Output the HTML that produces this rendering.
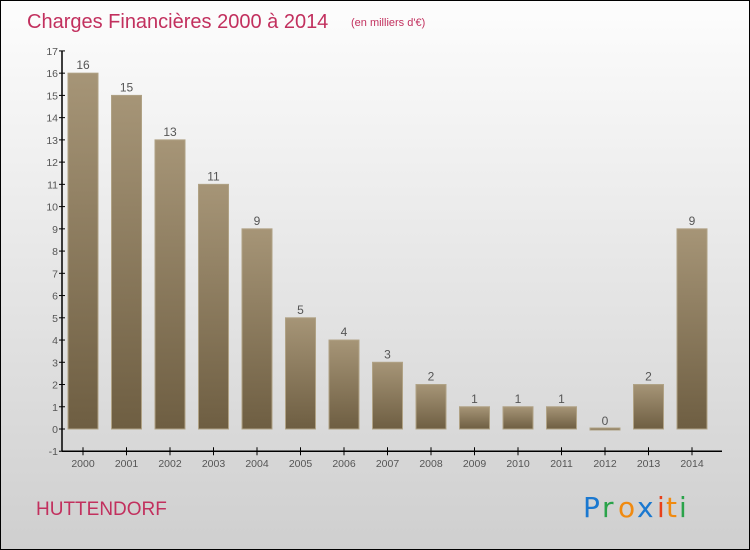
<!DOCTYPE html>
<html><head><meta charset="utf-8"><style>
body{margin:0;}
#c{position:relative;width:748px;height:548px;border:1px solid #000;background:linear-gradient(#fdfdfd,#cfcfcf);overflow:hidden;font-family:"Liberation Sans",sans-serif;}
svg{position:absolute;left:0;top:0}
</style></head><body>
<div id="c">
<svg id="s" width="748" height="548">
<defs><linearGradient id="g" x1="0" y1="0" x2="0" y2="1"><stop offset="0" stop-color="#a69577"/><stop offset="1" stop-color="#6e5e42"/></linearGradient></defs>
<text x="26" y="27" font-size="20" fill="#c2305e">Charges Financières 2000 à 2014</text>
<text x="350" y="25" font-size="11" fill="#c2305e">(en milliers d'€)</text>
<text x="35" y="514" font-size="19" fill="#c2305e">HUTTENDORF</text>
<g font-size="28" font-family="'DejaVu Sans',sans-serif">
<text x="582" y="516" fill="#1a78d0">P</text><text x="601" y="516" fill="#2aa34a">r</text><text x="617" y="516" fill="#f08a10">o</text><text x="636" y="516" fill="#1a78d0">x</text><text x="656" y="516" fill="#e8401a">i</text><text x="665" y="516" fill="#f08a10">t</text><text x="678" y="516" fill="#2aa34a">i</text>
</g>
</svg></div>
<script>
const years=["2000","2001","2002","2003","2004","2005","2006","2007","2008","2009","2010","2011","2012","2013","2014"];
const values=[16,15,13,11,9,5,4,3,2,1,1,1,0,2,9];
const yTicks=[-1,0,1,2,3,4,5,6,7,8,9,10,11,12,13,14,15,16,17];
const s=document.getElementById('s');const NS="http://www.w3.org/2000/svg";
const y=v=>428-(v)*22.24;const x=i=>82+i*43.5;
function mk(t,a,txt){const e=document.createElementNS(NS,t);for(const k in a)e.setAttribute(k,a[k]);if(txt!==undefined)e.textContent=txt;s.appendChild(e);return e;}
let e=mk('line',{x1:61,y1:y(17),x2:61,y2:y(-1),stroke:'#000','stroke-width':1.5});


e=mk('line',{x1:61,y1:y(-1),x2:721,y2:y(-1),stroke:'#000','stroke-width':1.5});


yTicks.forEach(v=>{
 mk('line',{x1:58,y1:y(v),x2:64,y2:y(v),stroke:'#000'});
 e=mk('text',{x:57,y:y(v)+4,'font-size':10.5,'text-anchor':'end',fill:'#555'},String(v));
 
 
});
years.forEach((yr,i)=>{
 const v=values[i],cx=x(i);
 mk('line',{x1:cx,y1:y(-1)-4,x2:cx,y2:y(-1)+4,stroke:'#000'});
 e=mk('text',{x:cx,y:466,'font-size':10.5,'text-anchor':'middle',fill:'#555'},yr);
 
 
 const top=y(Math.max(v,0)),h=Math.max(y(0)-top,1.5);
 e=mk('rect',{x:cx-15,y:v>0?top:y(0)-1,width:30,height:v>0?h:2,fill:'url(#g)',stroke:'#b0a285','stroke-width':1});
 
 
 e=mk('text',{x:cx,y:(v>0?top:y(0))-4,'font-size':12,'text-anchor':'middle',fill:'#555'},String(v));
 
 
});
</script>
</body></html>
